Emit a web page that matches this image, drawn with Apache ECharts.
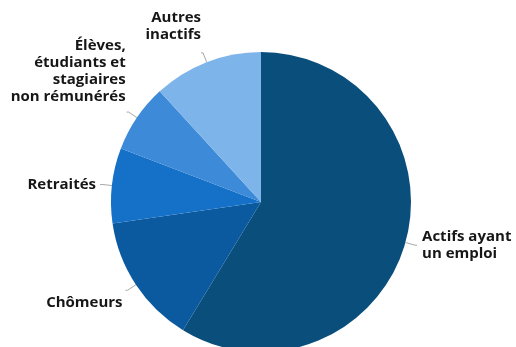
<!DOCTYPE html>
<html>
<head>
<meta charset="utf-8">
<script src="https://cdn.jsdelivr.net/npm/echarts@6/dist/echarts.min.js"></script>
<style>
  html, body { margin: 0; padding: 0; background: #ffffff; }
  #chart { width: 516px; height: 347px; }
</style>
</head>
<body>
<div id="chart"></div>
<script>
// Répartition de la population selon le statut d'activité (en %)
const categories = [
  'Actifs ayant\nun emploi',
  'Chômeurs',
  'Retraités',
  'Élèves,\nétudiants et\nstagiaires\nnon rémunérés',
  'Autres\ninactifs'
];
const shares = [58.7, 14.0, 8.1, 7.4, 11.8];
const palette = ['#0a4e7c', '#0b5a9f', '#1570c8', '#3c8ad8', '#7db4ea'];

// Label placement tweaks around the end of each leader line
const labelGap = [5, 3, 4, 1, 0];
const labelVAlign = ['middle', 'top', 'middle', 'bottom', 'bottom'];
const labelPad = [[0, 0, 0, 0], [4, 0, 0, 0], [0, 0, 0, 0], [0, 0, 7, 0], [0, 0, 10, 0]];

const chart = echarts.init(document.getElementById('chart'), null, { renderer: 'canvas' });

const data = categories.map((name, i) => ({
  name: name,
  value: shares[i],
  itemStyle: { color: palette[i] },
  label: {
    distanceToLabelLine: labelGap[i],
    verticalAlign: labelVAlign[i],
    padding: labelPad[i]
  }
}));

chart.setOption({
  animation: false,
  backgroundColor: '#ffffff',
  series: [{
    type: 'pie',
    center: [261, 202],
    radius: 150,
    startAngle: 90,
    clockwise: true,
    avoidLabelOverlap: false,
    itemStyle: { borderWidth: 0 },
    label: {
      show: true,
      position: 'outside',
      formatter: '{b}',
      fontFamily: 'Open Sans',
      fontWeight: 'bold',
      fontSize: 15,
      lineHeight: 17,
      color: '#161616'
    },
    labelLine: {
      show: true,
      length: 10,
      length2: 2,
      lineStyle: { color: '#a8a8a8', width: 1 }
    },
    labelLayout: function (params) {
      return { verticalAlign: labelVAlign[params.dataIndex] };
    },
    emphasis: { disabled: true },
    data: data
  }]
});
</script>
</body>
</html>
